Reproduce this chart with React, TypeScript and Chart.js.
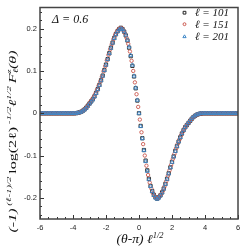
import { useEffect, useRef } from "react";
import { Chart, registerables } from "chart.js";
Chart.register(...registerables);

// x positions, (theta - pi) * l^(1/2)
const X_TENTHS = [
  -6, -5.9, -5.8, -5.7, -5.6, -5.5, -5.4, -5.3, -5.2, -5.1,
  -5, -4.9, -4.8, -4.7, -4.6, -4.5, -4.4, -4.3, -4.2, -4.1,
  -4, -3.9, -3.8, -3.7, -3.6, -3.5, -3.4, -3.3, -3.2, -3.1,
  -3, -2.9, -2.8, -2.7, -2.6, -2.5, -2.4, -2.3, -2.2, -2.1,
  -2, -1.9, -1.8, -1.7, -1.6, -1.5, -1.4, -1.3, -1.2, -1.1,
  -1, -0.9, -0.8, -0.7, -0.6, -0.5, -0.4, -0.3, -0.2, -0.1,
  0,
  0.1, 0.2, 0.3, 0.4, 0.5, 0.6, 0.7, 0.8, 0.9, 1,
  1.1, 1.2, 1.3, 1.4, 1.5, 1.6, 1.7, 1.8, 1.9, 2,
  2.1, 2.2, 2.3, 2.4, 2.5, 2.6, 2.7, 2.8, 2.9, 3,
  3.1, 3.2, 3.3, 3.4, 3.5, 3.6, 3.7, 3.8, 3.9, 4,
  4.1, 4.2, 4.3, 4.4, 4.5, 4.6, 4.7, 4.8, 4.9, 5,
  5.1, 5.2, 5.3, 5.4, 5.5, 5.6, 5.7, 5.8, 5.9, 6,
];

const X_HALF = [
  -5.95, -5.85, -5.75, -5.65, -5.55, -5.45, -5.35, -5.25, -5.15, -5.05,
  -4.95, -4.85, -4.75, -4.65, -4.55, -4.45, -4.35, -4.25, -4.15, -4.05,
  -3.95, -3.85, -3.75, -3.65, -3.55, -3.45, -3.35, -3.25, -3.15, -3.05,
  -2.95, -2.85, -2.75, -2.65, -2.55, -2.45, -2.35, -2.25, -2.15, -2.05,
  -1.95, -1.85, -1.75, -1.65, -1.55, -1.45, -1.35, -1.25, -1.15, -1.05,
  -0.95, -0.85, -0.75, -0.65, -0.55, -0.45, -0.35, -0.25, -0.15, -0.05,
  0.05, 0.15, 0.25, 0.35, 0.45, 0.55, 0.65, 0.75, 0.85, 0.95,
  1.05, 1.15, 1.25, 1.35, 1.45, 1.55, 1.65, 1.75, 1.85, 1.95,
  2.05, 2.15, 2.25, 2.35, 2.45, 2.55, 2.65, 2.75, 2.85, 2.95,
  3.05, 3.15, 3.25, 3.35, 3.45, 3.55, 3.65, 3.75, 3.85, 3.95,
  4.05, 4.15, 4.25, 4.35, 4.45, 4.55, 4.65, 4.75, 4.85, 4.95,
  5.05, 5.15, 5.25, 5.35, 5.45, 5.55, 5.65, 5.75, 5.85, 5.95,
];

// l = 101 (on X_TENTHS)
const Y_L101 = [
  0, 0, 0, 0, 0, 0, 0, 0, 0, 0,
  0, 0, 0, 0, 0, 0, 0, 0, 0, 0,
  0, 0, 0.0003, 0.001, 0.002, 0.0035, 0.006, 0.009, 0.013, 0.018,
  0.023, 0.028, 0.033, 0.040, 0.048, 0.057, 0.067, 0.078, 0.089, 0.102,
  0.115, 0.128, 0.142, 0.155, 0.167, 0.178, 0.187, 0.194, 0.199, 0.202,
  0.199, 0.193, 0.184, 0.172, 0.155, 0.135, 0.112, 0.087, 0.059, 0.030,
  0,
  -0.030, -0.059, -0.087, -0.112, -0.135, -0.155, -0.172, -0.184, -0.193, -0.199,
  -0.202, -0.199, -0.194, -0.187, -0.178, -0.167, -0.155, -0.142, -0.128, -0.115,
  -0.102, -0.089, -0.078, -0.067, -0.057, -0.048, -0.040, -0.033, -0.028, -0.023,
  -0.018, -0.013, -0.009, -0.006, -0.0035, -0.002, -0.001, -0.0003, 0, 0,
  0, 0, 0, 0, 0, 0, 0, 0, 0, 0,
  0, 0, 0, 0, 0, 0, 0, 0, 0, 0,
];

// l = 151 (on X_HALF)
const Y_L151 = [
  0, 0, 0, 0, 0, 0, 0, 0, 0, 0,
  0, 0, 0, 0, 0, 0, 0, 0, 0, 0,
  0, 0.0001, 0.0006, 0.0015, 0.0028, 0.0045, 0.0075, 0.011, 0.015, 0.020,
  0.027, 0.032, 0.038, 0.046, 0.055, 0.065, 0.075, 0.086, 0.099, 0.111,
  0.125, 0.138, 0.151, 0.163, 0.175, 0.185, 0.192, 0.198, 0.201, 0.201,
  0.196, 0.189, 0.178, 0.164, 0.146, 0.124, 0.100, 0.073, 0.045, 0.015,
  -0.015, -0.045, -0.073, -0.100, -0.124, -0.146, -0.164, -0.178, -0.189, -0.196,
  -0.200, -0.201, -0.197, -0.191, -0.183, -0.173, -0.161, -0.148, -0.135, -0.122,
  -0.108, -0.096, -0.083, -0.072, -0.062, -0.052, -0.044, -0.036, -0.030, -0.025,
  -0.020, -0.015, -0.011, -0.0075, -0.0045, -0.0028, -0.0015, -0.0006, -0.0001, 0,
  0, 0, 0, 0, 0, 0, 0, 0, 0, 0,
  0, 0, 0, 0, 0, 0, 0, 0, 0, 0,
];

// l = 201 (on X_TENTHS)
const Y_L201 = [
  0, 0, 0, 0, 0, 0, 0, 0, 0, 0,
  0, 0, 0, 0, 0, 0, 0, 0, 0, 0,
  0, 0, 0.0002, 0.0008, 0.0018, 0.003, 0.0055, 0.0085, 0.012, 0.017,
  0.022, 0.027, 0.032, 0.039, 0.047, 0.056, 0.066, 0.077, 0.088, 0.101,
  0.114, 0.127, 0.141, 0.154, 0.166, 0.177, 0.186, 0.193, 0.198, 0.200,
  0.198, 0.193, 0.185, 0.173, 0.157, 0.137, 0.114, 0.088, 0.060, 0.031,
  0,
  -0.031, -0.060, -0.088, -0.114, -0.137, -0.157, -0.173, -0.185, -0.194, -0.200,
  -0.203, -0.200, -0.195, -0.188, -0.179, -0.168, -0.156, -0.143, -0.129, -0.116,
  -0.103, -0.090, -0.078, -0.067, -0.057, -0.048, -0.040, -0.033, -0.027, -0.022,
  -0.017, -0.012, -0.0085, -0.0055, -0.003, -0.0018, -0.0008, -0.0002, 0, 0,
  0, 0, 0, 0, 0, 0, 0, 0, 0, 0,
  0, 0, 0, 0, 0, 0, 0, 0, 0, 0,
];

const X_TICKS = [-6, -4, -2, 0, 2, 4, 6];
const Y_TICKS = [-0.2, -0.1, 0, 0.1, 0.2];
const SERIES_LABELS = ["ℓ = 101", "ℓ = 151", "ℓ = 201"];
const ANNOTATION = "Δ = 0.6";

const SERIF = '"Liberation Serif", "DejaVu Serif", serif';
const SANS = '"Liberation Sans", Arial, sans-serif';

type Seg = { t: string; s: number; dy?: number; it?: boolean; stack?: Seg };

function segWidth(ctx: CanvasRenderingContext2D, g: Seg): number {
  ctx.font = `${g.it ? "italic " : ""}${g.s}px ${SERIF}`;
  let w = ctx.measureText(g.t).width;
  if (g.stack) {
    ctx.font = `${g.stack.it ? "italic " : ""}${g.stack.s}px ${SERIF}`;
    w = Math.max(w, ctx.measureText(g.stack.t).width);
  }
  return w;
}

function richWidth(ctx: CanvasRenderingContext2D, segs: Seg[]) {
  return segs.reduce((a, g) => a + segWidth(ctx, g), 0);
}

function drawRich(ctx: CanvasRenderingContext2D, segs: Seg[], cx: number, y: number) {
  const total = richWidth(ctx, segs);
  let x = cx - total / 2;
  for (const g of segs) {
    const w = segWidth(ctx, g);
    ctx.font = `${g.it ? "italic " : ""}${g.s}px ${SERIF}`;
    ctx.fillText(g.t, x, y + (g.dy || 0));
    if (g.stack) {
      ctx.font = `${g.stack.it ? "italic " : ""}${g.stack.s}px ${SERIF}`;
      ctx.fillText(g.stack.t, x, y + (g.stack.dy || 0));
    }
    x += w;
  }
}

function yTitle(B: number): Seg[] {
  const S = B * 0.68;
  const up = -B * 0.42;
  return [
    { t: "(-1)", s: B, it: true },
    { t: " (ℓ-1)/2 ", s: S, it: true, dy: up },
    { t: "log(2ℓ)", s: B },
    { t: " -1/2", s: S, it: true, dy: up },
    { t: "ℓ", s: B, it: true },
    { t: "1/2 ", s: S, it: true, dy: up },
    { t: "F", s: B, it: true },
    { t: "z", s: S, it: true, dy: up, stack: { t: "ℓ", s: S, it: true, dy: B * 0.25 } },
    { t: "(θ)", s: B, it: true },
  ];
}

function xTitle(B: number): Seg[] {
  const S = B * 0.62;
  return [
    { t: "(θ-π) ", s: B, it: true },
    { t: "ℓ", s: B, it: true },
    { t: "1/2", s: S, it: true, dy: -B * 0.42 },
  ];
}

function drawMarker(ctx: CanvasRenderingContext2D, style: string, x: number, y: number, r: number) {
  ctx.beginPath();
  if (style === "rect") {
    const h = r * Math.SQRT1_2;
    ctx.rect(x - h, y - h, 2 * h, 2 * h);
  } else if (style === "circle") {
    ctx.arc(x, y, r, 0, Math.PI * 2);
  } else {
    const h = r * 0.866;
    ctx.moveTo(x, y - r);
    ctx.lineTo(x + h, y + r * 0.5);
    ctx.lineTo(x - h, y + r * 0.5);
    ctx.closePath();
  }
  ctx.stroke();
}

const decor = {
  id: "decor",
  afterDatasetsDraw(chart: any) {
    const { ctx, chartArea: a, scales } = chart;
    const xs = scales.x;
    const ys = scales.y;
    ctx.save();
    // inner ticks: x every 0.5 (major every 2), y every 0.02 (major every 0.1)
    ctx.strokeStyle = "#333";
    ctx.lineWidth = 1;
    ctx.beginPath();
    for (let k = -12; k <= 12; k++) {
      const px = Math.round(xs.getPixelForValue(k * 0.5)) + 0.5;
      const len = k % 4 === 0 ? 4 : 2;
      ctx.moveTo(px, a.bottom);
      ctx.lineTo(px, a.bottom - len);
    }
    for (let k = -12; k <= 12; k++) {
      const py = Math.round(ys.getPixelForValue(k * 0.02)) + 0.5;
      const len = k % 5 === 0 ? 4 : 2;
      ctx.moveTo(a.left, py);
      ctx.lineTo(a.left + len, py);
    }
    ctx.stroke();
    // frame
    ctx.lineWidth = 1.5;
    ctx.strokeStyle = "#444";
    ctx.strokeRect(a.left, a.top, a.right - a.left, a.bottom - a.top);

    ctx.fillStyle = "#111";
    ctx.textBaseline = "alphabetic";
    ctx.textAlign = "left";

    // x title
    const xt0 = richWidth(ctx, xTitle(12));
    ctx.save();
    ctx.translate(140, 243);
    ctx.scale(47 / xt0, 1);
    drawRich(ctx, xTitle(12), 0, 0);
    ctx.restore();

    // y title (glyph size fixed, stretched along its length to the reference span)
    const YB = 10.5;
    const yt0 = richWidth(ctx, yTitle(YB));
    ctx.save();
    ctx.translate(11.5, 141.5);
    ctx.rotate(-Math.PI / 2);
    ctx.scale(182 / yt0, 1);
    drawRich(ctx, yTitle(YB), 0, 4);
    ctx.restore();

    // annotation
    ctx.font = `italic 12px ${SERIF}`;
    ctx.textBaseline = "middle";
    ctx.fillText(ANNOTATION, 52, 19.5);

    // legend
    ctx.font = `italic 11px ${SERIF}`;
    const rows = [12.7, 24.2, 36.7];
    chart.data.datasets.forEach((d: any, i: number) => {
      ctx.strokeStyle = d.borderColor;
      ctx.lineWidth = 1;
      drawMarker(ctx, d.pointStyle, 184.5, rows[i], d.pointRadius * 0.85);
      ctx.fillStyle = "#111";
      ctx.fillText(d.label, 195, rows[i] + 0.5);
    });
    ctx.restore();
  },
};

export default function App() {
  const ref = useRef<HTMLCanvasElement>(null);
  useEffect(() => {
    document.body.style.margin = "0";
    const pts = (xs: number[], ys: number[]) => xs.map((x, i) => ({ x, y: ys[i] }));
    const chart = new Chart(ref.current!, {
      type: "scatter",
      data: {
        datasets: [
          {
            label: SERIES_LABELS[0],
            data: pts(X_TENTHS, Y_L101),
            pointStyle: "rect",
            pointRadius: 2.3,
            borderColor: "#222",
            backgroundColor: "rgba(0,0,0,0)",
            borderWidth: 0.9,
            order: 3,
          },
          {
            label: SERIES_LABELS[1],
            data: pts(X_HALF, Y_L151),
            pointStyle: "circle",
            pointRadius: 1.7,
            borderColor: "#c9564c",
            backgroundColor: "rgba(0,0,0,0)",
            borderWidth: 0.9,
            order: 2,
          },
          {
            label: SERIES_LABELS[2],
            data: pts(X_TENTHS, Y_L201),
            pointStyle: "triangle",
            pointRadius: 2.2,
            borderColor: "#3f88c8",
            backgroundColor: "rgba(0,0,0,0)",
            borderWidth: 0.9,
            order: 1,
          },
        ],
      } as any,
      options: {
        animation: false,
        responsive: false,
        devicePixelRatio: 1,
        layout: { padding: { top: 4, right: 11, left: 0, bottom: 0 } },
        plugins: { legend: { display: false }, tooltip: { enabled: false } },
        scales: {
          x: {
            type: "linear",
            min: -6,
            max: 6,
            afterBuildTicks: (s: any) => {
              s.ticks = X_TICKS.map((v) => ({ value: v }));
            },
            afterFit: (s: any) => {
              s.height = 30;
            },
            grid: { display: false, drawTicks: false },
            border: { display: false },
            ticks: {
              padding: 4,
              color: "#222",
              font: { family: SANS, size: 7.5 },
              maxRotation: 0,
              callback: (v: any) => String(v),
            },
          },
          y: {
            type: "linear",
            min: -0.25,
            max: 0.25,
            afterBuildTicks: (s: any) => {
              s.ticks = Y_TICKS.map((v) => ({ value: v }));
            },
            afterFit: (s: any) => {
              s.width = 40;
            },
            grid: { display: false, drawTicks: false },
            border: { display: false },
            ticks: {
              padding: 3,
              color: "#222",
              font: { family: SANS, size: 7.5 },
              callback: (v: any) => String(Math.round(v * 10) / 10),
            },
          },
        },
      } as any,
      plugins: [decor],
    });
    return () => chart.destroy();
  }, []);
  return (
    <canvas
      ref={ref}
      width={249}
      height={249}
      style={{ display: "block", width: 249, height: 249 }}
    />
  );
}
